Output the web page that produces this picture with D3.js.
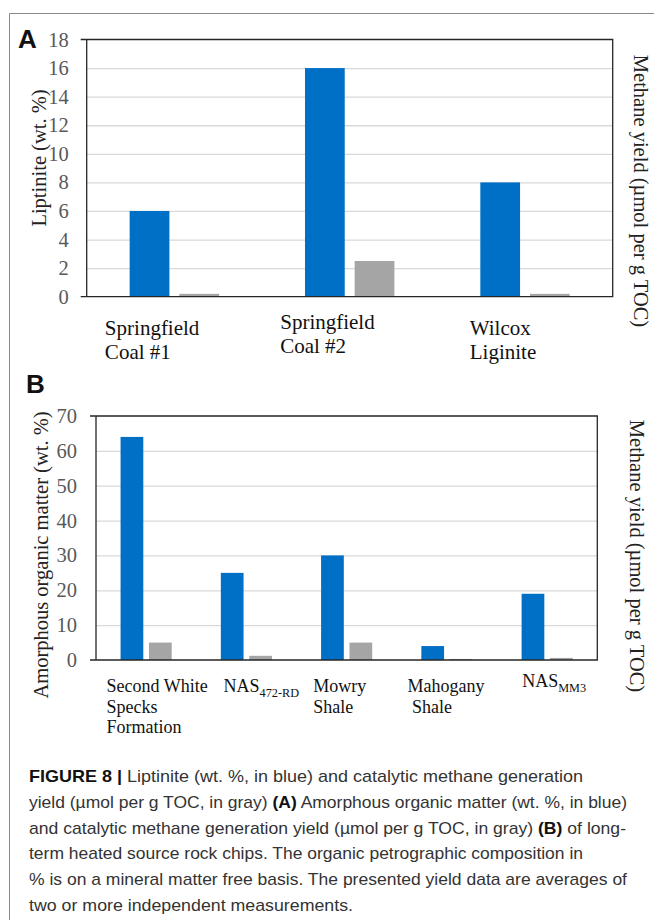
<!DOCTYPE html>
<html>
<head>
<meta charset="utf-8">
<script src="https://cdnjs.cloudflare.com/ajax/libs/d3/7.8.5/d3.min.js"></script>
<style>
  body { margin: 0; background: #fff; }
  svg { display: block; }
</style>
</head>
<body>
<div id="chart"></div>
<script>
// ---- panel A data ----
const catsA = [["Springfield", "Coal #1"], ["Springfield", "Coal #2"], ["Wilcox", "Liginite"]];
const liptinite = [6, 16, 8];
const methaneA = [0.2, 2.5, 0.2];
const ticksA = [0, 2, 4, 6, 8, 10, 12, 14, 16, 18];

// ---- panel B data ----  (a line given as [text, sub] gets a subscript)
const catsB = [["Second White", "Specks", "Formation"], [["NAS", "472-RD"]], ["Mowry", "Shale"], ["Mahogany", " Shale"], [["NAS", "MM3"]]];
const amorphous = [64, 25, 30, 4, 19];
const methaneB = [5, 1.2, 5, 0.3, 0.6];
const ticksB = [0, 10, 20, 30, 40, 50, 60, 70];

const caption = [
  [["FIGURE 8 | ", 1], ["Liptinite (wt. %, in blue) and catalytic methane generation", 0]],
  [["yield (µmol per g TOC, in gray) ", 0], ["(A)", 1], [" Amorphous organic matter (wt. %, in blue)", 0]],
  [["and catalytic methane generation yield (µmol per g TOC, in gray) ", 0], ["(B)", 1], [" of long-", 0]],
  [["term heated source rock chips. The organic petrographic composition in", 0]],
  [["% is on a mineral matter free basis. The presented yield data are averages of", 0]],
  [["two or more independent measurements.", 0]]
];

const blue = "#0070c6";
const gray = "#a5a5a5";
const serif = "'Liberation Serif', 'Times New Roman', serif";

const svg = d3.select("#chart").append("svg")
  .attr("width", 654)
  .attr("height", 920);

// outer frame (top + left edge)
svg.append("path")
  .attr("d", "M9.5,920V13.5H654")
  .attr("fill", "none")
  .attr("stroke", "#8a8a8a")
  .attr("stroke-width", 1);

function drawPanel(p) {
  const g = svg.append("g");
  const w = p.right - p.left;

  const x0 = d3.scaleBand()
    .domain(d3.range(p.cats.length))
    .range([p.left, p.right])
    .paddingInner(0.49)
    .paddingOuter(0.245);

  const x1 = d3.scaleBand()
    .domain(["blue", "gray"])
    .range([0, x0.bandwidth()])
    .paddingInner(0.2);

  const y = d3.scaleLinear()
    .domain([0, d3.max(p.ticks)])
    .range([p.bottom, p.top]);

  // gridlines
  g.append("g")
    .attr("transform", "translate(" + p.left + ",0)")
    .call(d3.axisLeft(y).tickValues(p.ticks.slice(1, -1)).tickSize(-w).tickFormat(""))
    .call(a => a.select(".domain").remove())
    .selectAll("line")
    .attr("stroke", "#d9d9d9")
    .attr("stroke-width", 1.3);

  // tick labels
  g.append("g")
    .attr("transform", "translate(" + p.left + ",0)")
    .call(d3.axisLeft(y).tickValues(p.ticks).tickSize(0).tickPadding(p.tickPad))
    .call(a => a.select(".domain").remove())
    .selectAll("text")
    .attr("font-family", serif)
    .attr("font-size", 20.5)
    .attr("fill", "#595959");

  // bars
  const groups = g.append("g")
    .selectAll("g")
    .data(p.cats.map((c, i) => i))
    .enter().append("g")
    .attr("transform", d => "translate(" + x0(d) + ",0)");

  groups.append("rect")
    .attr("x", x1("blue"))
    .attr("y", d => y(p.blue[d]))
    .attr("width", x1.bandwidth())
    .attr("height", d => y(0) - y(p.blue[d]))
    .attr("fill", blue);

  groups.append("rect")
    .attr("x", x1("gray"))
    .attr("y", d => y(p.gray[d]))
    .attr("width", x1.bandwidth())
    .attr("height", d => y(0) - y(p.gray[d]))
    .attr("fill", gray);

  // plot box, top and bottom lines run a little past the left edge
  g.append("path")
    .attr("d", "M" + (p.left - 6) + "," + y(d3.max(p.ticks)) + "H" + p.right + "V" + y(0) + "H" + (p.left - 6)
      + "M" + p.left + "," + y(d3.max(p.ticks)) + "V" + y(0))
    .attr("fill", "none")
    .attr("stroke", "#262626")
    .attr("stroke-width", 1.3);

  // category labels
  p.cats.forEach((lines, i) => {
    const t = g.append("text")
      .attr("font-family", serif)
      .attr("font-size", p.labelSize)
      .attr("fill", "#111")
      .style("white-space", "pre")
      .attr("y", p.labelY - (p.labelLift[i] || 0));
    lines.forEach((ln, k) => {
      const dy = k === 0 ? 0 : p.labelLead;
      if (Array.isArray(ln)) {
        t.append("tspan").attr("x", 0).attr("dy", dy).text(ln[0]);
        t.append("tspan").attr("font-size", p.labelSize * 0.68).attr("dy", 5).text(ln[1]);
      } else {
        t.append("tspan").attr("x", 0).attr("dy", dy).text(ln);
      }
    });
    const bw = t.node().getBBox().width;
    t.attr("transform", "translate(" + (x0(i) + x0.bandwidth() / 2 + p.labelShift[i] - bw / 2) + ",0)");
  });

  // panel letter
  g.append("text")
    .attr("x", p.letterX)
    .attr("y", p.letterY)
    .attr("font-family", "'Liberation Sans', Arial, sans-serif")
    .attr("font-weight", "bold")
    .attr("font-size", 26)
    .attr("fill", "#111")
    .text(p.letter);

  // axis titles
  g.append("text")
    .attr("transform", "translate(" + p.leftTitleX + "," + p.leftTitleY + ") rotate(-90)")
    .attr("text-anchor", "middle")
    .attr("font-family", serif)
    .attr("font-size", 20.5)
    .attr("fill", "#222")
    .text(p.leftTitle);

  g.append("text")
    .attr("transform", "translate(" + p.rightTitleX + "," + p.rightTitleY + ") rotate(90)")
    .attr("text-anchor", "middle")
    .attr("font-family", serif)
    .attr("font-size", 20.5)
    .attr("fill", "#222")
    .text("Methane yield (µmol per g TOC)");
}

drawPanel({
  cats: catsA, blue: liptinite, gray: methaneA, ticks: ticksA,
  left: 86.7, right: 612.7, top: 39.5, bottom: 296.7, tickPad: 18,
  labelSize: 21, labelY: 335, labelLead: 23.5,
  labelShift: [-22, -22, -22], labelLift: [0, 6, 0],
  letter: "A", letterX: 18, letterY: 48,
  leftTitle: "Liptinite (wt. %)", leftTitleX: 46, leftTitleY: 158,
  rightTitleX: 634, rightTitleY: 191
});

drawPanel({
  cats: catsB, blue: amorphous, gray: methaneB, ticks: ticksB,
  left: 96, right: 597.3, top: 416, bottom: 660, tickPad: 19,
  labelSize: 18, labelY: 692, labelLead: 20.5,
  labelShift: [11, 15, -7, -1, 7], labelLift: [0, 0, 0, 0, 5],
  letter: "B", letterX: 26, letterY: 393,
  leftTitle: "Amorphous organic matter (wt. %)", leftTitleX: 48, leftTitleY: 555,
  rightTitleX: 630, rightTitleY: 556
});

// caption
const capWidths = [554, 598, 597, 554, 598, 324];
caption.forEach((segs, i) => {
  const t = svg.append("text")
    .attr("x", 29)
    .attr("y", 782 + i * 25.8)
    .attr("font-family", "'Liberation Sans Narrow', 'Liberation Sans', Arial, sans-serif")
    .attr("font-size", 17)
    .attr("fill", "#333")
    .style("white-space", "pre")
    .attr("textLength", capWidths[i])
    .attr("lengthAdjust", "spacingAndGlyphs");
  segs.forEach(s => {
    t.append("tspan")
      .attr("font-weight", s[1] ? "bold" : null)
      .attr("fill", s[1] ? "#111" : null)
      .text(s[0]);
  });
});
</script>
</body>
</html>
